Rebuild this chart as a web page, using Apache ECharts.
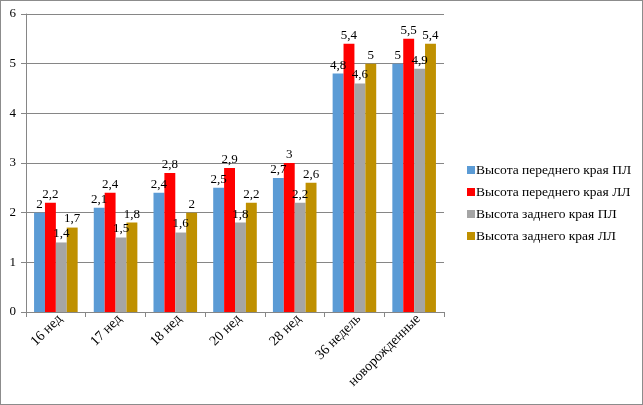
<!DOCTYPE html>
<html>
<head>
<meta charset="utf-8">
<script src="https://cdn.jsdelivr.net/npm/echarts@6/dist/echarts.min.js"></script>
<style>
html,body{margin:0;padding:0;background:#fff;}
#chart{width:641px;height:403px;border:1px solid #8c8c8c;}
</style>
</head>
<body>
<div id="chart"></div>
<script>
var categories = ['16 нед','17 нед','18 нед','20 нед','28 нед','36 недель','новорожденные'];
var seriesNames = ['Высота переднего края ПЛ','Высота переднего края ЛЛ','Высота заднего края ПЛ','Высота заднего края ЛЛ'];
var frontPL = [2, 2.1, 2.4, 2.5, 2.7, 4.8, 5];
var frontLL = [2.2, 2.4, 2.8, 2.9, 3, 5.4, 5.5];
var backPL = [1.4, 1.5, 1.6, 1.8, 2.2, 4.6, 4.9];
var backLL = [1.7, 1.8, 2, 2.2, 2.6, 5, 5.4];
var colors = ['#5b9bd5','#ff0000','#a5a5a5','#bf9000'];

var myChart = echarts.init(document.getElementById('chart'));
var font = 'Liberation Serif';

function makeSeries(name, data, color){
	return {
		name: name,
		type: 'bar',
		data: data,
		barGap: '0%',
		barCategoryGap: '27%',
		itemStyle: {color: color},
		label: {
			show: true,
			position: 'top',
			distance: 2,
			fontFamily: font,
			fontSize: 13,
			color: '#000',
			formatter: function(p){ return String(p.value).replace('.', ','); }
		}
	};
}

var option = {
	animation: false,
	backgroundColor: '#fff',
	textStyle: {fontFamily: font},
	grid: {left: 25, right: 198, top: 13, bottom: 92},
	legend: {
		orient: 'vertical',
		left: 461,
		top: 157,
		itemWidth: 8,
		itemHeight: 8,
		itemGap: 8,
		icon: 'rect',
		textStyle: {fontFamily: font, fontSize: 13.5, color: '#000', padding: [0,0,0,-4]},
		data: seriesNames
	},
	xAxis: {
		type: 'category',
		data: categories,
		axisLine: {lineStyle: {color: '#868686'}},
		axisTick: {show: true, alignWithLabel: false, length: 5, lineStyle: {color: '#868686'}},
		axisLabel: {rotate: 45, fontFamily: font, fontSize: 14, color: '#000', margin: 9, interval: 0, padding: [0,-6,0,0]}
	},
	yAxis: {
		type: 'value',
		min: 0,
		max: 6,
		interval: 1,
		axisLine: {show: true, lineStyle: {color: '#868686'}},
		axisTick: {show: true, length: 5, lineStyle: {color: '#868686'}},
		splitLine: {lineStyle: {color: '#868686'}},
		axisLabel: {fontFamily: font, fontSize: 13, color: '#000', margin: 10}
	},
	series: [
		makeSeries(seriesNames[0], frontPL, colors[0]),
		makeSeries(seriesNames[1], frontLL, colors[1]),
		makeSeries(seriesNames[2], backPL, colors[2]),
		makeSeries(seriesNames[3], backLL, colors[3])
	]
};
myChart.setOption(option);
</script>
</body>
</html>
